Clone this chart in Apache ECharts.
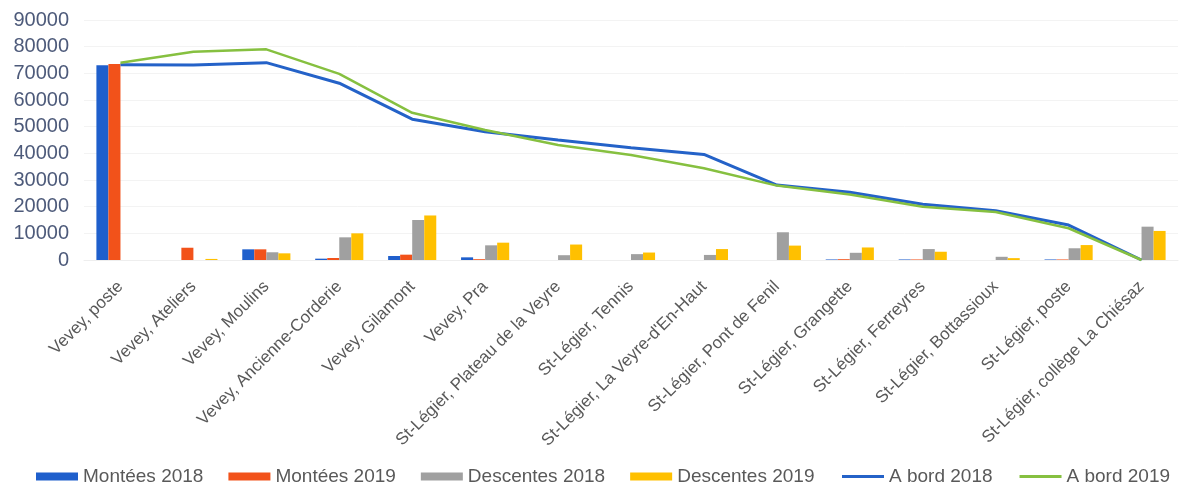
<!DOCTYPE html>
<html>
<head>
<meta charset="utf-8">
<script src="https://cdn.jsdelivr.net/npm/echarts@6/dist/echarts.min.js"></script>
<style>
html,body{margin:0;padding:0;background:#fff;}
#chart{width:1184px;height:491px;}
</style>
</head>
<body>
<div id="chart"></div>
<script>
const categories = [
  "Vevey, poste", "Vevey, Ateliers", "Vevey, Moulins", "Vevey, Ancienne-Corderie",
  "Vevey, Gilamont", "Vevey, Pra", "St-Légier, Plateau de la Veyre", "St-Légier, Tennis",
  "St-Légier, La Veyre-d'En-Haut", "St-Légier, Pont de Fenil", "St-Légier, Grangette",
  "St-Légier, Ferreyres", "St-Légier, Bottassioux", "St-Légier, poste",
  "St-Légier, collège La Chiésaz"
];
const montees2018 = [73000, 0, 4000, 500, 1500, 1000, 0, 0, 0, 0, 200, 200, 0, 200, 0];
const montees2019 = [73500, 4600, 4000, 750, 2000, 300, 0, 0, 0, 0, 300, 200, 0, 200, 0];
const descentes2018 = [0, 0, 2900, 8500, 15000, 5500, 1800, 2200, 1900, 10400, 2700, 4100, 1200, 4400, 12500];
const descentes2019 = [0, 400, 2500, 10000, 16700, 6500, 5800, 2800, 4100, 5400, 4700, 3100, 700, 5600, 10900];
const aBord2018 = [73200, 73100, 74000, 66300, 52800, 48100, 45000, 42100, 39600, 28100, 25400, 20900, 18500, 13100, 0];
const aBord2019 = [74000, 78100, 79000, 69800, 55200, 48750, 43100, 39400, 34400, 27900, 24600, 20000, 18000, 11900, 0];
const yTicks = [0, 10000, 20000, 30000, 40000, 50000, 60000, 70000, 80000, 90000];

const FONT = 'Liberation Sans, Arial, sans-serif';
const chart = echarts.init(document.getElementById('chart'));
const barBase = {type: 'bar', barGap: '0%', barCategoryGap: '34%'};
const legendText = {fontSize: 19, color: '#595959', fontFamily: FONT};
chart.setOption({
  animation: false,
  backgroundColor: '#ffffff',
  grid: {left: 84, right: 6, top: 20, bottom: 231},
  legend: [
    {
      left: 31, top: 462,
      itemWidth: 42, itemHeight: 8, itemGap: 25,
      textStyle: legendText,
      data: [
        {name: 'Montées 2018', icon: 'rect'},
        {name: 'Montées 2019', icon: 'rect'},
        {name: 'Descentes 2018', icon: 'rect'},
        {name: 'Descentes 2019', icon: 'rect'}
      ]
    },
    {
      left: 837, top: 462,
      itemWidth: 42, itemHeight: 3, itemGap: 27,
      textStyle: legendText,
      data: [
        {name: 'A bord 2018', icon: 'rect'},
        {name: 'A bord 2019', icon: 'rect'}
      ]
    }
  ],
  xAxis: {
    type: 'category',
    data: categories,
    axisTick: {show: false},
    axisLine: {show: true, lineStyle: {color: '#eeeeee'}},
    axisLabel: {
      rotate: 45, interval: 0, margin: 24,
      fontSize: 17, color: '#595959', fontFamily: FONT
    }
  },
  yAxis: {
    type: 'value',
    min: yTicks[0], max: yTicks[yTicks.length - 1], interval: 10000,
    axisLine: {show: false},
    axisTick: {show: false},
    splitLine: {show: true, lineStyle: {color: '#f3f3f3'}},
    axisLabel: {
      fontSize: 20, color: '#4d5a7a', margin: 15, fontFamily: FONT,
      formatter: v => String(v)
    }
  },
  series: [
    Object.assign({}, barBase, {name: 'Montées 2018', data: montees2018, itemStyle: {color: '#1f5fcc'}}),
    Object.assign({}, barBase, {name: 'Montées 2019', data: montees2019, itemStyle: {color: '#f2521a'}}),
    Object.assign({}, barBase, {name: 'Descentes 2018', data: descentes2018, itemStyle: {color: '#a0a0a0'}}),
    Object.assign({}, barBase, {name: 'Descentes 2019', data: descentes2019, itemStyle: {color: '#ffc000'}}),
    {name: 'A bord 2018', type: 'line', data: aBord2018, symbol: 'none', z: 5,
     lineStyle: {color: '#2462c8', width: 3}, itemStyle: {color: '#2462c8'}},
    {name: 'A bord 2019', type: 'line', data: aBord2019, symbol: 'none', z: 6,
     lineStyle: {color: '#86c040', width: 2.5}, itemStyle: {color: '#86c040'}}
  ]
});
</script>
</body>
</html>
